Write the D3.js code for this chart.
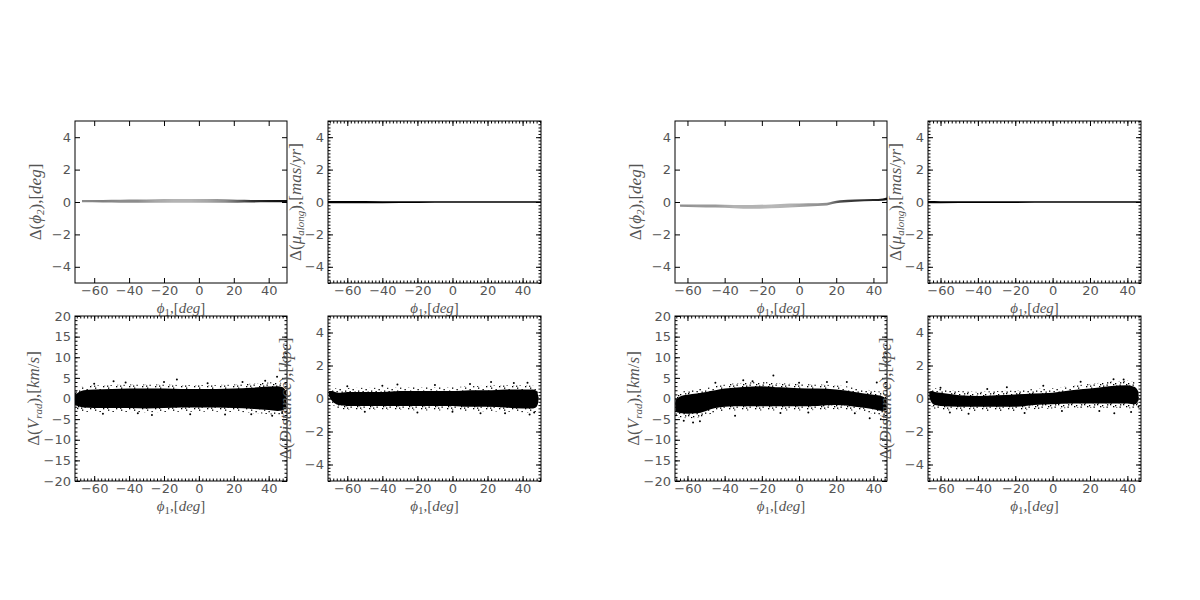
<!DOCTYPE html>
<html>
<head>
<meta charset="utf-8">
<script src="https://d3js.org/d3.v7.min.js"></script>
<style>
body { margin: 0; background: #fff; }
.tick text { font-family: "DejaVu Sans", sans-serif; font-size: 13px; fill: #555; }
.lab { font-family: "Liberation Serif", "DejaVu Serif", serif; font-size: 15px; fill: #555; }
.ylab { font-size: 17px; }
.sub { font-size: 11px; }
</style>
</head>
<body>
<svg id="fig" width="1200" height="600"></svg>
<script>
// x ranges of the two sets of panels
const phiRangeA = [-71, 50.5];
const phiRangeB = [-66.7, 47.3];
const ticksPhi = [-60, -40, -20, 0, 20, 40];
const ticksSmall = [-4, -2, 0, 2, 4];
const ticksVrad = [-20, -15, -10, -5, 0, 5, 10, 15, 20];

// ---- set A (left) ----
// delta phi2 : grey density band (centre, half width, darkness)
const aPhi2X    = [-67, -55, -45, -35, -25, -15, -5, 5, 15, 22, 30, 40, 50.5];
const aPhi2Mid  = [0.05, 0.05, 0.05, 0.05, 0.06, 0.07, 0.07, 0.07, 0.06, 0.05, 0.05, 0.05, 0.05];
const aPhi2Half = [0.07, 0.08, 0.09, 0.1, 0.11, 0.12, 0.12, 0.12, 0.11, 0.09, 0.08, 0.07, 0.07];
const aPhi2Dens = [0.45, 0.5, 0.45, 0.45, 0.35, 0.3, 0.3, 0.35, 0.45, 0.6, 0.8, 0.9, 0.95];
// delta mu_along : thin line
const aMuX  = [-71, -60, -40, -20, 0, 20, 40, 50.5];
const aMuLo = [-0.08, -0.07, -0.07, -0.06, -0.05, -0.05, -0.05, -0.05];
const aMuHi = [0.06, 0.06, 0.05, 0.05, 0.05, 0.05, 0.05, 0.05];
// delta V_rad : dense core, sparse envelope, outliers
const aVrX     = [-71, -69, -66, -60, -50, -40, -30, -20, -10, 0, 10, 20, 30, 40, 45, 48, 50];
const aVrLo    = [-1.6, -1.9, -2.2, -2.3, -2.3, -2.3, -2.4, -2.3, -2.2, -2.2, -2.2, -2.3, -2.5, -2.8, -3.0, -2.9, -2.2];
const aVrHi    = [0.9, 1.5, 2.0, 2.2, 2.3, 2.4, 2.4, 2.4, 2.3, 2.3, 2.3, 2.4, 2.6, 2.9, 3.0, 2.7, 1.8];
const aVrLoOut = [-2.3, -2.8, -3.2, -3.3, -3.3, -3.3, -3.4, -3.3, -3.2, -3.2, -3.2, -3.3, -3.5, -3.8, -4.0, -3.8, -3.0];
const aVrHiOut = [1.7, 2.4, 3.0, 3.2, 3.3, 3.4, 3.4, 3.4, 3.3, 3.3, 3.3, 3.4, 3.6, 3.9, 4.0, 3.6, 2.6];
const aVrOut = [[-48.9, 4.2], [-12.6, 4.6], [-26.9, -4.0], [44.8, 5.3], [47.7, -3.5], [-60, 3.6], [-55, -3.7],
  [-42, 3.9], [-35, -3.6], [-20, 4.0], [-5, -3.8], [5, 3.7], [15, -3.9], [25, 4.0], [30, -3.8], [38, 4.3], [42, -4.2]];
// delta distance
const aDiX     = [-70.5, -69, -67, -65, -60, -50, -40, -30, -20, -10, 0, 10, 20, 30, 40, 46, 48, 49];
const aDiLo    = [0.15, -0.1, -0.3, -0.4, -0.45, -0.45, -0.45, -0.45, -0.45, -0.45, -0.45, -0.5, -0.5, -0.55, -0.6, -0.6, -0.5, -0.2];
const aDiHi    = [0.45, 0.45, 0.4, 0.35, 0.4, 0.4, 0.4, 0.45, 0.45, 0.45, 0.45, 0.5, 0.5, 0.55, 0.55, 0.55, 0.45, 0.1];
const aDiLoOut = [0.05, -0.25, -0.5, -0.6, -0.68, -0.68, -0.68, -0.68, -0.72, -0.72, -0.72, -0.75, -0.78, -0.8, -0.85, -0.88, -0.78, -0.4];
const aDiHiOut = [0.6, 0.62, 0.62, 0.6, 0.63, 0.65, 0.65, 0.68, 0.7, 0.7, 0.7, 0.75, 0.78, 0.8, 0.8, 0.78, 0.68, 0.3];
const aDiOut = [[16, -0.9], [22, 1.0], [42.8, 0.95], [-31.4, 0.85], [46.6, -0.85], [-60, 0.75], [-50, -0.8],
  [-40, 0.78], [-20, -0.85], [-10, 0.82], [0, -0.8], [10, 0.88], [30, -0.9], [35, 0.94], [44, -0.97]];

// ---- set B (right) ----
const bPhi2X    = [-64, -55, -45, -35, -25, -15, -5, 5, 15, 18, 22, 30, 40, 45, 47.3];
const bPhi2Mid  = [-0.23, -0.24, -0.25, -0.28, -0.3, -0.27, -0.22, -0.18, -0.13, -0.05, 0.03, 0.09, 0.12, 0.15, 0.2];
const bPhi2Half = [0.07, 0.08, 0.09, 0.1, 0.12, 0.12, 0.12, 0.1, 0.09, 0.08, 0.08, 0.07, 0.06, 0.07, 0.08];
const bPhi2Dens = [0.45, 0.4, 0.4, 0.3, 0.3, 0.28, 0.3, 0.4, 0.45, 0.55, 0.7, 0.8, 0.85, 0.9, 0.95];
const bMuX  = [-66.7, -60, -40, -20, 0, 20, 40, 47.3];
const bMuLo = [-0.07, -0.07, -0.06, -0.06, -0.05, -0.05, -0.05, -0.05];
const bMuHi = [0.06, 0.05, 0.05, 0.05, 0.05, 0.05, 0.05, 0.05];
const bVrX     = [-66.5, -64, -60, -55, -50, -45, -40, -30, -20, -10, 0, 10, 20, 30, 40, 45, 47];
const bVrLo    = [-3.2, -3.5, -3.7, -3.6, -3.0, -2.3, -2.0, -1.9, -1.9, -1.9, -1.9, -1.8, -1.6, -2.0, -2.6, -3.0, -2.8];
const bVrHi    = [-0.5, 0.5, 0.9, 1.2, 1.6, 2.0, 2.4, 2.8, 3.0, 2.7, 2.5, 2.4, 2.2, 1.6, 0.9, 0.5, 0.0];
const bVrLoOut = [-4.3, -4.6, -4.8, -4.7, -4.1, -3.4, -3.0, -2.9, -2.9, -2.9, -2.9, -2.8, -2.6, -3.0, -3.7, -4.1, -3.8];
const bVrHiOut = [0.5, 1.5, 1.9, 2.2, 2.6, 3.0, 3.4, 3.8, 4.0, 3.7, 3.5, 3.4, 3.2, 2.6, 1.9, 1.5, 0.8];
const bVrOut = [[-13.8, 5.6], [-53.3, -5.5], [-34.4, -4.2], [25.7, 4.0], [41.8, 3.9], [-45, 3.8], [-30, 4.4],
  [-25, 4.2], [-10, -3.5], [0, 3.8], [5, -3.4], [15, 4.0], [30, -3.6], [38, -4.8], [44, -5.0], [-62, -5.4], [-57, -5.8]];
const bDiX     = [-66, -65, -63, -60, -50, -40, -30, -20, -10, 0, 10, 20, 30, 40, 44, 46];
const bDiLo    = [0.1, -0.2, -0.4, -0.45, -0.5, -0.5, -0.5, -0.5, -0.4, -0.35, -0.3, -0.3, -0.3, -0.3, -0.35, -0.1];
const bDiHi    = [0.4, 0.45, 0.4, 0.35, 0.2, 0.15, 0.2, 0.25, 0.3, 0.35, 0.5, 0.6, 0.75, 0.8, 0.7, 0.4];
const bDiLoOut = [0.0, -0.42, -0.62, -0.68, -0.75, -0.75, -0.75, -0.75, -0.65, -0.6, -0.57, -0.57, -0.57, -0.57, -0.62, -0.3];
const bDiHiOut = [0.58, 0.62, 0.62, 0.58, 0.45, 0.4, 0.45, 0.5, 0.58, 0.62, 0.78, 0.88, 1.02, 1.08, 0.98, 0.62];
const bDiOut = [[-24.5, 0.68], [32.6, 1.17], [46, -0.5], [33, -0.9], [-60, 0.65], [-55, -0.85], [-45, -0.92],
  [-35, 0.58], [-15, -0.88], [-5, 0.78], [5, -0.75], [15, 1.02], [25, -0.75], [38, 1.15], [42, -0.82]];

const svg = d3.select("#fig");
const defs = svg.append("defs");

// speckle pattern for the sparse edge of the point clouds
const pat = defs.append("pattern").attr("id", "speck")
  .attr("width", 13).attr("height", 11).attr("patternUnits", "userSpaceOnUse");
[[0, 0], [5, 1], [9.5, 2.5], [2, 4], [7, 5.5], [11.5, 7], [4, 8.5], [0.5, 9.5], [8.5, 9], [3, 2], [10, 0.2], [6, 3.5]].forEach(p =>
  pat.append("rect").attr("x", p[0]).attr("y", p[1]).attr("width", 1.3).attr("height", 1.3).attr("fill", "#000"));

defs.append("filter").attr("id", "soft")
  .append("feGaussianBlur").attr("stdDeviation", 0.6);

const sets = [
  { off: 0, dom: phiRangeA, phi2: [aPhi2X, aPhi2Mid, aPhi2Half, aPhi2Dens], mu: [aMuX, aMuLo, aMuHi],
    vr: [aVrX, aVrLo, aVrHi, aVrLoOut, aVrHiOut, aVrOut], di: [aDiX, aDiLo, aDiHi, aDiLoOut, aDiHiOut, aDiOut] },
  { off: 600, dom: phiRangeB, phi2: [bPhi2X, bPhi2Mid, bPhi2Half, bPhi2Dens], mu: [bMuX, bMuLo, bMuHi],
    vr: [bVrX, bVrLo, bVrHi, bVrLoOut, bVrHiOut, bVrOut], di: [bDiX, bDiLo, bDiHi, bDiLoOut, bDiHiOut, bDiOut] }
];

let gid = 0;

function panel(left, top, w, h, xDom, yDom, yTicks, minor, yMinorStep, ylabel, labOff) {
  const g = svg.append("g").attr("transform", `translate(${left},${top})`);
  const x = d3.scaleLinear().domain(xDom).range([0, w]);
  const y = d3.scaleLinear().domain(yDom).range([h, 0]);
  const id = "clip" + (gid++);
  defs.append("clipPath").attr("id", id).append("rect").attr("width", w).attr("height", h);
  const plot = g.append("g").attr("clip-path", `url(#${id})`);

  // ticks, inward on all four sides
  g.append("g").attr("transform", `translate(0,${h})`)
    .call(d3.axisBottom(x).tickValues(ticksPhi).tickSizeInner(-5).tickSizeOuter(0).tickPadding(3));
  g.append("g")
    .call(d3.axisLeft(y).tickValues(yTicks).tickSizeInner(-5).tickSizeOuter(0).tickPadding(4));
  g.append("g").call(d3.axisTop(x).tickValues(ticksPhi).tickSizeInner(-5).tickSizeOuter(0).tickFormat(""));
  g.append("g").attr("transform", `translate(${w},0)`)
    .call(d3.axisRight(y).tickValues(yTicks).tickSizeInner(-5).tickSizeOuter(0).tickFormat(""));
  if (minor) {
    const mx = d3.range(-70, 51, 2).filter(v => v >= xDom[0] && v <= xDom[1]);
    const my = d3.range(yDom[0], yDom[1] + 1e-9, yMinorStep);
    g.append("g").attr("transform", `translate(0,${h})`).call(d3.axisBottom(x).tickValues(mx).tickSizeInner(-2.5).tickSizeOuter(0).tickFormat(""));
    g.append("g").call(d3.axisTop(x).tickValues(mx).tickSizeInner(-2.5).tickSizeOuter(0).tickFormat(""));
    g.append("g").call(d3.axisLeft(y).tickValues(my).tickSizeInner(-2.5).tickSizeOuter(0).tickFormat(""));
    g.append("g").attr("transform", `translate(${w},0)`).call(d3.axisRight(y).tickValues(my).tickSizeInner(-2.5).tickSizeOuter(0).tickFormat(""));
  }
  g.selectAll(".domain").remove();
  g.selectAll(".tick line").attr("stroke", "#000");

  g.append("rect").attr("width", w).attr("height", h)
    .attr("fill", "none").attr("stroke", "#000").attr("stroke-width", 1);

  // x label
  const xl = g.append("text").attr("class", "lab").attr("x", w / 2).attr("y", h + 30).attr("text-anchor", "middle");
  xl.append("tspan").attr("font-style", "italic").text("ϕ");
  xl.append("tspan").attr("class", "sub").attr("dy", 3).text("1");
  xl.append("tspan").attr("dy", -3).text(",[");
  xl.append("tspan").attr("font-style", "italic").text("deg");
  xl.append("tspan").text("]");

  // y label
  const yl = g.append("text").attr("class", "lab ylab")
    .attr("transform", `translate(${-labOff},${h / 2}) rotate(-90)`)
    .attr("text-anchor", "middle").attr("dy", "0.35em");
  ylabel.forEach(p => {
    const t = yl.append("tspan").text(p[0]);
    if (p[1] === "i") t.attr("font-style", "italic");
    if (p[1] === "s") t.attr("class", "sub").attr("font-style", "italic").attr("dy", 3);
    if (p[1] === "u") t.attr("dy", -3);
  });
  return { plot, x, y };
}

function area(xs, lo, hi, x, y) {
  return d3.area().x(i => x(xs[i])).y0(i => y(lo[i])).y1(i => y(hi[i])).curve(d3.curveMonotoneX)(d3.range(xs.length));
}

function cloud(p, d) {
  const [xs, lo, hi, loOut, hiOut, out] = d;
  p.plot.append("path").attr("d", area(xs, loOut, hiOut, p.x, p.y)).attr("fill", "url(#speck)");
  p.plot.append("path").attr("d", area(xs, lo, hi, p.x, p.y)).attr("fill", "#000");
  p.plot.selectAll("circle.o").data(out).join("circle").attr("class", "o")
    .attr("cx", d => p.x(d[0])).attr("cy", d => p.y(d[1])).attr("r", 1).attr("fill", "#000");
}

const labPhi2 = [["Δ(", ""], ["ϕ", "i"], ["2", "s"], ["),[", "u"], ["deg", "i"], ["]", ""]];
const labMu = [["Δ(", ""], ["μ", "i"], ["along", "s"], ["),[", "u"], ["mas", "i"], ["/", ""], ["yr", "i"], ["]", ""]];
const labVr = [["Δ(", ""], ["V", "i"], ["rad", "s"], ["),[", "u"], ["km", "i"], ["/", ""], ["s", "i"], ["]", ""]];
const labDi = [["Δ(", ""], ["Distance", "i"], ["),[", ""], ["kpc", "i"], ["]", ""]];

sets.forEach(s => {
  const o = s.off;
  // top-left: grey density band
  const p1 = panel(75 + o, 121, 212, 162, s.dom, [-5, 5], ticksSmall, false, 0, labPhi2, 40);
  const [px, pm, ph, pd] = s.phi2;
  const gidName = "grad" + o;
  const grad = defs.append("linearGradient").attr("id", gidName).attr("gradientUnits", "userSpaceOnUse")
    .attr("x1", p1.x(px[0])).attr("x2", p1.x(px[px.length - 1])).attr("y1", 0).attr("y2", 0);
  const span = px[px.length - 1] - px[0];
  px.forEach((v, i) => grad.append("stop").attr("offset", (v - px[0]) / span)
    .attr("stop-color", "#000").attr("stop-opacity", pd[i]));
  p1.plot.append("path")
    .attr("d", area(px, pm.map((m, i) => m - ph[i]), pm.map((m, i) => m + ph[i]), p1.x, p1.y))
    .attr("fill", `url(#${gidName})`).attr("filter", "url(#soft)");

  // top-right: mu_along
  const p2 = panel(328 + o, 121, 213, 162, s.dom, [-5, 5], ticksSmall, true, 0.2, labMu, 33);
  p2.plot.append("path").attr("d", area(s.mu[0], s.mu[1], s.mu[2], p2.x, p2.y)).attr("fill", "#000");

  // bottom-left: V_rad
  const p3 = panel(75 + o, 316, 212, 165, s.dom, [-20, 20], ticksVrad, true, 1, labVr, 42);
  cloud(p3, s.vr);

  // bottom-right: distance
  const p4 = panel(328 + o, 316, 213, 165, s.dom, [-5, 5], ticksSmall, true, 0.2, labDi, 43);
  cloud(p4, s.di);
});
</script>
</body>
</html>
